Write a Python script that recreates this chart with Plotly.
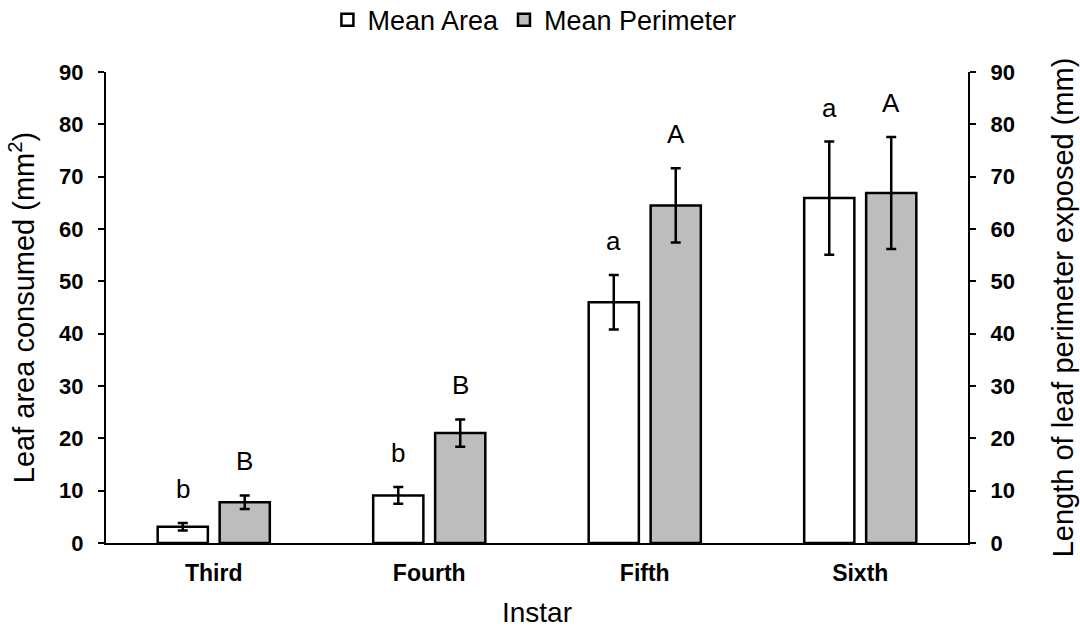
import plotly.graph_objects as go

# Instar stages and feeding measurements (mean ± error)
instars = ["Third", "Fourth", "Fifth", "Sixth"]
mean_area = [3.1, 9.1, 46.0, 65.9]
area_err = [0.7, 1.6, 5.2, 10.8]
mean_perimeter = [7.8, 21.0, 64.5, 66.9]
perimeter_err = [1.3, 2.6, 7.1, 10.7]
area_letters = ["b", "b", "a", "a"]
perimeter_letters = ["B", "B", "A", "A"]

FONT = "Liberation Sans, Arial, sans-serif"

fig = go.Figure()
fig.add_trace(go.Bar(
    name="Mean Area", x=instars, y=mean_area, offsetgroup=1,
    marker=dict(color="white", line=dict(color="black", width=2.5)),
    error_y=dict(type="data", array=area_err, color="black", thickness=2.5, width=5),
    yaxis="y",
))
fig.add_trace(go.Bar(
    name="Mean Perimeter", x=instars, y=mean_perimeter, offsetgroup=2,
    marker=dict(color="#bdbdbd", line=dict(color="black", width=2.5)),
    error_y=dict(type="data", array=perimeter_err, color="black", thickness=2.5, width=5),
    yaxis="y2",
))

# Significance letters above each error bar
for i, cat in enumerate(instars):
    fig.add_annotation(x=cat, y=mean_area[i] + area_err[i], text=area_letters[i],
                       xref="x", yref="y", showarrow=False, yanchor="bottom",
                       xshift=-31, yshift=17, font=dict(size=26, color="black", family=FONT))
    fig.add_annotation(x=cat, y=mean_perimeter[i] + perimeter_err[i], text=perimeter_letters[i],
                       xref="x", yref="y2", showarrow=False, yanchor="bottom",
                       xshift=31, yshift=17, font=dict(size=26, color="black", family=FONT))

tick_y = dict(size=22, family=FONT, weight="bold", color="black")

fig.update_layout(
    width=1080, height=632,
    margin=dict(l=106, r=112, t=72, b=89, autoexpand=False),
    plot_bgcolor="white", paper_bgcolor="white",
    font=dict(family=FONT, color="black"),
    barmode="group", bargap=0.425, bargroupgap=0.19,
    showlegend=True,
    legend=dict(orientation="h", x=0.497, xanchor="center", y=0.968, yanchor="middle",
                yref="container", font=dict(size=27), traceorder="normal",
                itemwidth=30, bgcolor="rgba(0,0,0,0)"),
    xaxis=dict(
        type="category", showline=True, linecolor="black", linewidth=2,
        ticks="", ticklabelstandoff=8, automargin=False,
        tickfont=dict(size=23, family=FONT, weight="bold", color="black"),
        title=dict(text="Instar", font=dict(size=28), standoff=18),
    ),
    yaxis=dict(
        range=[0, 90], dtick=10, showgrid=False, zeroline=False,
        showline=True, linecolor="black", linewidth=2, automargin=False,
        ticks="outside", ticklen=6, tickwidth=2, tickcolor="black",
        ticklabelstandoff=10, tickfont=tick_y,
        title=dict(text="Leaf area consumed (mm<sup>2</sup>)", font=dict(size=29), standoff=16),
    ),
    yaxis2=dict(
        range=[0, 90], dtick=10, showgrid=False, zeroline=False,
        overlaying="y", side="right", automargin=False,
        showline=True, linecolor="black", linewidth=2,
        ticks="outside", ticklen=6, tickwidth=2, tickcolor="black",
        ticklabelstandoff=10, tickfont=tick_y,
        title=dict(text="Length of leaf perimeter exposed (mm)", font=dict(size=29), standoff=39),
    ),
)

fig.write_html("out.html")
